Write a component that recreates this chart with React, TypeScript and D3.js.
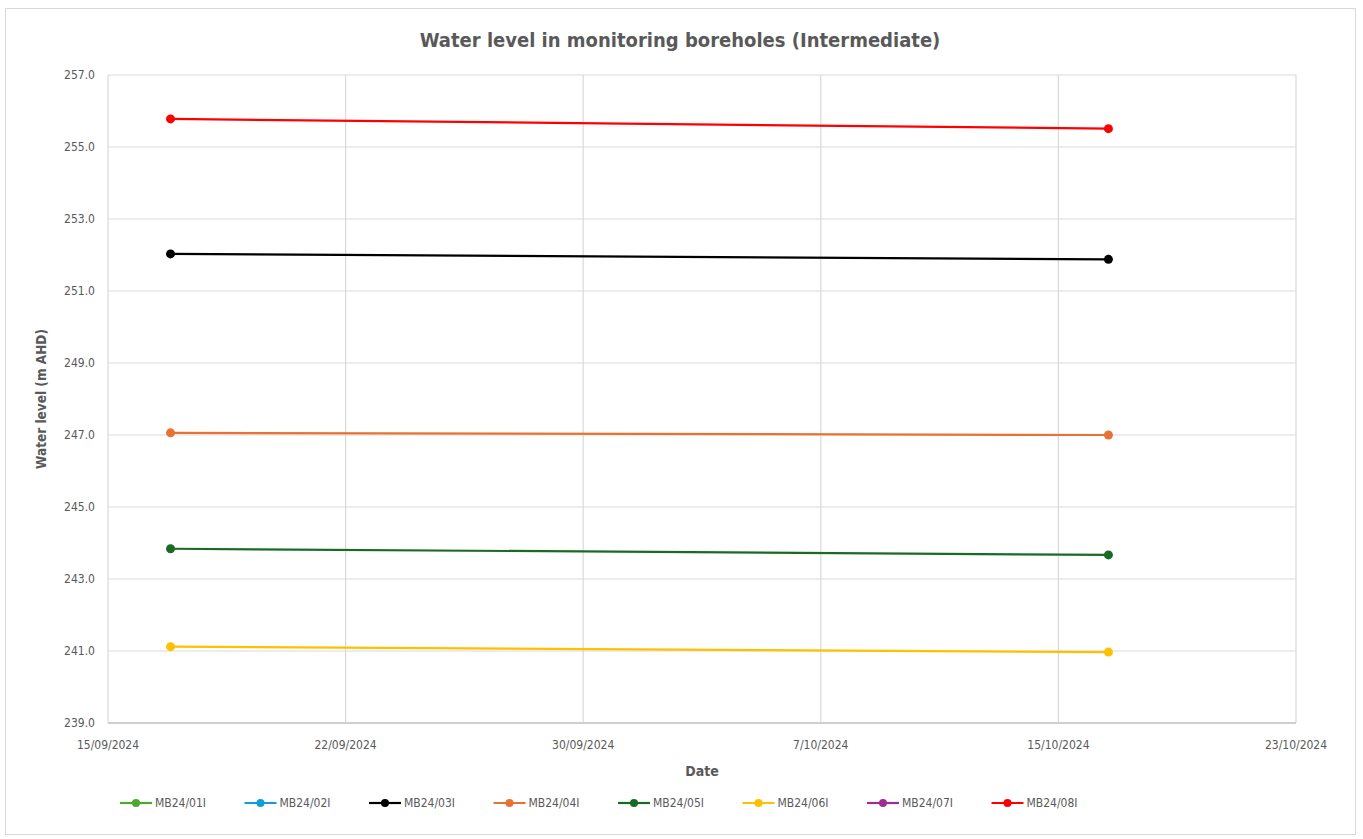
import React from "react";
import * as d3 from "d3";

const dates = ["2024-09-17", "2024-10-17"];
const seriesNames = ["MB24/01I", "MB24/02I", "MB24/03I", "MB24/04I", "MB24/05I", "MB24/06I", "MB24/07I", "MB24/08I"];
const seriesColors = ["#4EA72E", "#0F9ED5", "#000000", "#E97132", "#196B24", "#FFC000", "#A02B93", "#FF0000"];
const mb01: number[] = [];
const mb02: number[] = [];
const mb03 = [252.03, 251.88];
const mb04 = [247.06, 247.0];
const mb05 = [243.84, 243.67];
const mb06 = [241.12, 240.97];
const mb07: number[] = [];
const mb08 = [255.78, 255.51];
const seriesValues = [mb01, mb02, mb03, mb04, mb05, mb06, mb07, mb08];
const yTicks = [239, 241, 243, 245, 247, 249, 251, 253, 255, 257];
const xStart = "2024-09-15";
const xEnd = "2024-10-23";
const xMajorDays = 7.6;

const FONT = "'Liberation Sans Narrow', 'Arial Narrow', 'DejaVu Sans Condensed', sans-serif";

export default function App() {
  const W = 1363, H = 839;
  const left = 108, right = 1296, top = 75, bottom = 723;
  const parse = (s: string) => new Date(s + "T00:00:00");
  const x = d3.scaleTime().domain([parse(xStart), parse(xEnd)]).range([left, right]);
  const y = d3.scaleLinear().domain([239, 257]).range([bottom, top]);
  const DAY = 86400000;
  const nTicks = Math.round((parse(xEnd).getTime() - parse(xStart).getTime()) / DAY / xMajorDays);
  const xTicks = d3.range(nTicks + 1).map((k) => new Date(parse(xStart).getTime() + k * xMajorDays * DAY));
  const fmt = d3.timeFormat("%-d/%m/%Y");
  const line = d3.line<[Date, number]>().x((d) => x(d[0])).y((d) => y(d[1]));
  const grey = "#595959";

  return (
    <svg width={W} height={H} style={{ position: "absolute", left: 0, top: 0, background: "#fff" }}>
      <rect x={5.5} y={8.5} width={1350} height={826} fill="#fff" stroke="#d9d9d9" />
      <text x={680} y={47} textAnchor="middle" fontFamily={FONT} fontWeight="bold" fontSize={20} fill={grey}>
        Water level in monitoring boreholes (Intermediate)
      </text>
      {yTicks.map((t) => (
        <g key={"y" + t}>
          <line x1={left} x2={right} y1={y(t)} y2={y(t)} stroke={t === 239 ? "#bfbfbf" : "#d9d9d9"} strokeWidth={1.2} />
          <text x={left - 13} y={y(t) + 4} textAnchor="end" fontFamily={FONT} fontSize={12} fill={grey}>
            {t.toFixed(1)}
          </text>
        </g>
      ))}
      {xTicks.map((t, i) => (
        <g key={"x" + i}>
          <line x1={x(t)} x2={x(t)} y1={top} y2={bottom} stroke="#d9d9d9" strokeWidth={1.2} />
          <text x={x(t)} y={bottom + 26} textAnchor="middle" fontFamily={FONT} fontSize={12} fill={grey}>
            {fmt(t)}
          </text>
        </g>
      ))}
      <line x1={left} x2={right} y1={bottom} y2={bottom} stroke="#bfbfbf" strokeWidth={1.2} />
      <text x={702} y={776} textAnchor="middle" fontFamily={FONT} fontWeight="bold" fontSize={14} fill={grey}>
        Date
      </text>
      <text
        transform={`translate(46, ${(top + bottom) / 2}) rotate(-90)`}
        textAnchor="middle"
        fontFamily={FONT}
        fontWeight="bold"
        fontSize={13.5}
        fill={grey}
      >
        Water level (m AHD)
      </text>
      {seriesValues.map((vals, si) => {
        const pts: [Date, number][] = vals.map((v, i) => [parse(dates[i]), v]);
        if (!pts.length) return null;
        return (
          <g key={"s" + si}>
            <path d={line(pts) || ""} fill="none" stroke={seriesColors[si]} strokeWidth={2.2} />
            {pts.map((p, i) => (
              <circle key={i} cx={x(p[0])} cy={y(p[1])} r={4.5} fill={seriesColors[si]} />
            ))}
          </g>
        );
      })}
      {seriesNames.map((n, i) => {
        const lx = 120 + i * 124.5;
        const ly = 803;
        return (
          <g key={"l" + i}>
            <line x1={lx} x2={lx + 32} y1={ly} y2={ly} stroke={seriesColors[i]} strokeWidth={2.2} />
            <circle cx={lx + 16} cy={ly} r={4} fill={seriesColors[i]} />
            <text x={lx + 35} y={ly + 4} fontFamily={FONT} fontSize={12} fill={grey}>
              {n}
            </text>
          </g>
        );
      })}
    </svg>
  );
}
